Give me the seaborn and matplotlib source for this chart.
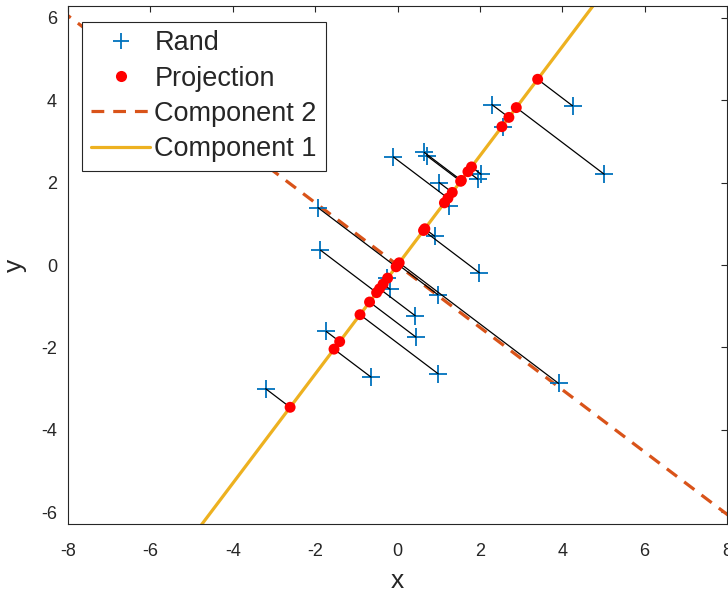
import numpy as np
import pandas as pd
import seaborn as sns
import matplotlib
matplotlib.use("Agg")
import matplotlib.pyplot as plt
from matplotlib.lines import Line2D

# ---- data ----
rand_x = [4.25, 5.02, 2.29, 2.55, -0.10, 0.65, 0.71, 1.01, 2.03, 1.95, 1.24, -1.93, 0.90,
          1.99, -1.87, -0.25, -0.18, 0.98, 0.43, 0.45, -1.73, -0.64, 0.99, 3.91, -3.20]
rand_y = [3.86, 2.20, 3.89, 3.34, 2.62, 2.73, 2.65, 2.00, 2.20, 2.08, 1.43, 1.39, 0.70,
          -0.19, 0.36, -0.31, -0.59, -0.72, -1.23, -1.75, -1.61, -2.72, -2.64, -2.87, -3.00]
comp1_dir = [0.603, 0.798]     # direction of component 1 (through origin)
comp2_dir = [-0.798, 0.603]    # direction of component 2
line_t = [-12, 12]             # parameter range for the component lines

x_ticks = [-8, -6, -4, -2, 0, 2, 4, 6, 8]
y_ticks = [-6, -4, -2, 0, 2, 4, 6]
legend_labels = ["Rand", "Projection", "Component 2", "Component 1"]

# ---- derived ----
P = np.column_stack([rand_x, rand_y])
u = np.array(comp1_dir)
v = np.array(comp2_dir)
proj = np.outer(P @ u, u)
t = np.array(line_t, dtype=float)
c1 = pd.DataFrame({"x": t * u[0], "y": t * u[1]})
c2 = pd.DataFrame({"x": t * v[0], "y": t * v[1]})
df_rand = pd.DataFrame({"x": rand_x, "y": rand_y})
df_proj = pd.DataFrame({"x": proj[:, 0], "y": proj[:, 1]})

BLUE = "#0072BD"
ORANGE = "#D95319"
YELLOW = "#EDB120"
GRAY = "#262626"

sns.set_style("white")
plt.rcParams["font.family"] = ["Liberation Sans", "DejaVu Sans"]
plt.rcParams["axes.unicode_minus"] = False

fig = plt.figure(figsize=(7.28, 5.92), dpi=100)
ax = fig.add_axes([68 / 728, 1 - 524 / 592, 659 / 728, 518 / 592])

sns.lineplot(data=c2, x="x", y="y", ax=ax, color=ORANGE, lw=2.3, sort=False,
             zorder=2).lines[-1].set_dashes([4, 2.8])
sns.lineplot(data=c1, x="x", y="y", ax=ax, color=YELLOW, lw=2.3, sort=False, zorder=2)

sns.scatterplot(data=df_rand, x="x", y="y", ax=ax, marker="+", s=150, color=BLUE,
                linewidth=1.3, zorder=3)
for (px, py), (qx, qy) in zip(P, proj):
    ax.plot([px, qx], [py, qy], color="black", lw=0.9, zorder=4)
sns.scatterplot(data=df_proj, x="x", y="y", ax=ax, marker="o", s=62, color="red",
                edgecolor="none", zorder=5)

ax.set_xlim(-8, 8)
ax.set_ylim(-6.28, 6.28)
ax.set_xticks(x_ticks)
ax.set_yticks(y_ticks)
ax.set_xticklabels([str(k) for k in x_ticks])
ax.set_yticklabels([str(k) for k in y_ticks])
ax.tick_params(direction="in", length=4, width=0.8, colors=GRAY, labelsize=13,
               top=True, right=True)
ax.tick_params(axis="x", pad=14)
ax.tick_params(axis="y", pad=8)
for s in ax.spines.values():
    s.set_color(GRAY)
    s.set_linewidth(0.8)
    s.set_visible(True)
ax.set_xlabel("x", fontsize=19, color=GRAY, labelpad=6)
ax.set_ylabel("y", fontsize=19, color=GRAY, labelpad=10)

handles = [
    Line2D([], [], ls="none", marker="+", ms=12, mew=1.3, color=BLUE),
    Line2D([], [], ls="none", marker="o", ms=8, color="red", mec="none"),
    Line2D([], [], color=ORANGE, lw=2.3, dashes=[4, 2.8]),
    Line2D([], [], color=YELLOW, lw=2.3),
]
leg = ax.legend(handles, legend_labels, loc="upper left", bbox_to_anchor=(0.021, 0.97),
                fontsize=19.5, frameon=True, fancybox=False, framealpha=1,
                handlelength=2.2, handletextpad=0.15, borderpad=0.33,
                labelspacing=0.34, borderaxespad=0)
leg.get_frame().set_edgecolor(GRAY)
leg.get_frame().set_linewidth(0.8)

fig.savefig("out.png", dpi=100)
